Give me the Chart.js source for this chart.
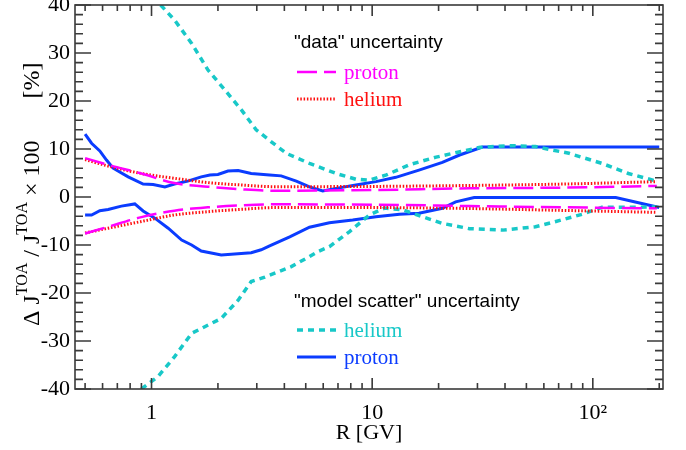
<!DOCTYPE html>
<html lang="en">
<head>
  <meta charset="UTF-8">
  <title>Flux uncertainty vs rigidity</title>
  <style>
    body { margin: 0; padding: 0; background: #ffffff; }
    canvas#fluxChart { display: block; }
  </style>
</head>
<body>
  <canvas id="fluxChart" width="686" height="450"></canvas>

  <script src="https://cdn.jsdelivr.net/npm/chart.js"></script>

  <script>
    // "model scatter" proton band (upper / lower edge)
    const modelProtonUpX = [0.5, 0.535, 0.583, 0.625, 0.67, 0.784, 0.916, 1.017, 1.15, 1.27, 1.46, 1.68, 1.84, 2.0, 2.22, 2.47, 2.83, 3.43, 3.87, 4.53, 5.2, 5.97, 6.86, 8.44, 10.4, 12.8, 16.3, 20.8, 24.9, 31.6, 200];
    const modelProtonUpY = [13.1, 11.2, 9.6, 7.7, 6.0, 4.2, 2.7, 2.6, 2.1, 2.7, 3.3, 4.2, 4.6, 4.7, 5.4, 5.5, 4.9, 4.6, 4.4, 3.3, 2.1, 1.25, 1.8, 2.5, 3.2, 4.1, 5.6, 7.2, 8.75, 10.4, 10.4];
    const modelProtonLoX = [0.5, 0.535, 0.583, 0.636, 0.73, 0.84, 0.916, 1.035, 1.19, 1.37, 1.52, 1.68, 2.07, 2.38, 2.83, 3.14, 3.43, 4.23, 5.2, 6.4, 8.16, 10.4, 13.3, 16.3, 20.8, 23.9, 29, 127, 200];
    const modelProtonLoY = [-3.75, -3.75, -2.85, -2.6, -1.9, -1.45, -2.9, -4.4, -6.5, -8.96, -10.0, -11.25, -12.1, -11.9, -11.6, -11.0, -10.2, -8.3, -6.3, -5.35, -4.8, -4.1, -3.6, -3.4, -2.35, -1.0, -0.1, -0.1, -2.2];

    // "model scatter" helium band
    const modelHeliumUpX = [1.10, 1.27, 1.52, 1.80, 2.15, 2.56, 2.98, 3.49, 4.08, 5.2, 6.86, 8.44, 9.7, 11.6, 14.7, 19.5, 23.2, 30.9, 41.9, 55, 78, 110, 145, 195];
    const modelHeliumUpY = [40, 36.9, 32, 26.5, 22.3, 18.1, 14.0, 11.5, 9.1, 7.0, 4.9, 3.7, 3.5, 4.6, 6.7, 8.3, 9.1, 10.35, 10.7, 10.5, 9.1, 7.0, 4.9, 3.3];
    const modelHeliumLoX = [0.90, 1.07, 1.27, 1.52, 1.68, 2.07, 2.47, 2.83, 3.26, 4.30, 5.2, 5.66, 6.4, 7.9, 9.7, 11.4, 13.8, 16.9, 20.8, 27.6, 39, 55, 68, 89.5, 110, 195];
    const modelHeliumLoY = [-40, -37.4, -33.3, -28.4, -27.4, -25.3, -21.5, -17.6, -16.7, -14.5, -12.4, -11.4, -10.35, -7.2, -3.75, -2.3, -2.7, -4.1, -5.5, -6.6, -6.9, -6.2, -5.1, -3.6, -2.15, -2.1];

    // "data" uncertainty bands (same rigidity grid for both species)
    const dataX = [0.5, 0.636, 0.90, 1.27, 1.80, 2.56, 3.61, 10, 27.6, 74, 195];
    const dataProtonUpY = [8.1, 6.7, 4.9, 2.9, 2.15, 1.6, 1.3, 1.45, 1.8, 1.95, 2.3];
    const dataProtonLoY = [-7.6, -6.2, -4.2, -2.85, -2.15, -1.74, -1.53, -1.6, -1.88, -2.15, -2.36];
    const dataHeliumUpY = [7.8, 6.45, 4.9, 3.9, 3.0, 2.5, 2.15, 2.2, 2.4, 2.7, 3.2];
    const dataHeliumLoY = [-7.5, -6.5, -5.1, -3.75, -3.06, -2.57, -2.2, -2.2, -2.4, -2.8, -3.2];

    // axis ticks
    const xLabelVals = [1, 10, 100];
    const xLabelText = ['1', '10', '10\u00B2'];
    const xMinorVals = [0.5, 0.6, 0.7, 0.8, 0.9, 2, 3, 4, 5, 6, 7, 8, 9, 20, 30, 40, 50, 60, 70, 80, 90, 200];
    const yLabelVals = [-40, -30, -20, -10, 0, 10, 20, 30, 40];

    const MAGENTA = '#ff00ff';
    const RED = '#ff1010';
    const CYAN = '#18c8c8';
    const BLUE = '#0b3cff';

    const STYLE = {
      dataProton: { color: MAGENTA, width: 2.5, dash: [20, 7] },
      dataHelium: { color: RED, width: 3, dash: [1.5, 1.8] },
      modelHelium: { color: CYAN, width: 3.5, dash: [6, 5] },
      modelProton: { color: BLUE, width: 3, dash: [] }
    };

    function pts(xs, ys) {
      return xs.map((x, i) => ({ x: x, y: ys[i] }));
    }

    function makeSet(xs, ys, st, smooth) {
      return {
        data: pts(xs, ys),
        borderColor: st.color,
        borderWidth: st.width,
        borderDash: st.dash,
        pointRadius: 0,
        fill: false,
        cubicInterpolationMode: smooth ? 'monotone' : 'default',
        tension: 0
      };
    }

    const datasets = [
      makeSet(dataX, dataProtonUpY, STYLE.dataProton, true),
      makeSet(dataX, dataProtonLoY, STYLE.dataProton, true),
      makeSet(dataX, dataHeliumUpY, STYLE.dataHelium, true),
      makeSet(dataX, dataHeliumLoY, STYLE.dataHelium, true),
      makeSet(modelHeliumUpX, modelHeliumUpY, STYLE.modelHelium, false),
      makeSet(modelHeliumLoX, modelHeliumLoY, STYLE.modelHelium, false),
      makeSet(modelProtonUpX, modelProtonUpY, STYLE.modelProton, false),
      makeSet(modelProtonLoX, modelProtonLoY, STYLE.modelProton, false)
    ];

    const SERIF = '"Liberation Serif", "Times New Roman", serif';
    const SANS = '"Liberation Sans", Arial, sans-serif';

    // frame with inward ticks on all four sides
    const framePlugin = {
      id: 'frame',
      afterDraw(chart) {
        const c = chart.ctx;
        const a = chart.chartArea;
        const xs = chart.scales.x, ys = chart.scales.y;
        c.save();
        c.strokeStyle = '#3a3a3a';
        c.lineWidth = 1.6;
        c.strokeRect(a.left, a.top, a.right - a.left, a.bottom - a.top);
        c.beginPath();
        const xTick = (v, len) => {
          const p = xs.getPixelForValue(v);
          c.moveTo(p, a.bottom); c.lineTo(p, a.bottom - len);
          c.moveTo(p, a.top); c.lineTo(p, a.top + len);
        };
        xLabelVals.forEach(v => xTick(v, 11));
        xMinorVals.forEach(v => xTick(v, 6));
        for (let v = -40; v <= 40; v += 2) {
          const p = ys.getPixelForValue(v);
          const len = v % 10 === 0 ? 16 : 8;
          c.moveTo(a.left, p); c.lineTo(a.left + len, p);
          c.moveTo(a.right, p); c.lineTo(a.right - len, p);
        }
        c.stroke();
        c.restore();
      }
    };

    // rotated y title with superscripts
    const yTitlePlugin = {
      id: 'yTitle',
      afterDraw(chart) {
        const c = chart.ctx;
        const main = '24px ' + SERIF;
        const sup = '16px ' + SERIF;
        const parts = [
          ['\u0394 J', main, 0],
          ['TOA', sup, -12],
          [' / J', main, 0],
          ['TOA', sup, -12],
          [' \u00D7 100       [%]', main, 0]
        ];
        c.save();
        c.translate(39, 326);
        c.rotate(-Math.PI / 2);
        c.fillStyle = '#000';
        c.textBaseline = 'alphabetic';
        c.textAlign = 'left';
        let x = 0;
        parts.forEach(([t, f, dy]) => {
          c.font = f;
          c.fillText(t, x, dy);
          x += c.measureText(t).width;
        });
        c.restore();
      }
    };

    // two-group legend
    const legendPlugin = {
      id: 'bandLegend',
      afterDraw(chart) {
        const c = chart.ctx;
        c.save();
        c.textBaseline = 'middle';
        c.textAlign = 'left';
        const header = (t, y) => {
          c.font = '19px ' + SANS;
          c.fillStyle = '#000';
          c.fillText(t, 294, y);
        };
        const entry = (t, st, y) => {
          c.beginPath();
          c.strokeStyle = st.color;
          c.lineWidth = st.width;
          c.setLineDash(st.dash);
          c.moveTo(297, y); c.lineTo(336, y);
          c.stroke();
          c.setLineDash([]);
          c.font = '21px ' + SERIF;
          c.fillStyle = st.color;
          c.fillText(t, 344, y + 1);
        };
        header('"data" uncertainty', 43);
        entry('proton', STYLE.dataProton, 72);
        entry('helium', STYLE.dataHelium, 99);
        header('"model scatter" uncertainty', 302);
        entry('helium', STYLE.modelHelium, 330);
        entry('proton', STYLE.modelProton, 357);
        c.restore();
      }
    };

    const chart = new Chart(document.getElementById('fluxChart'), {
      type: 'line',
      data: { datasets: datasets },
      options: {
        responsive: false,
        animation: false,
        layout: { padding: { top: 5, right: 23, left: 0, bottom: 0 } },
        plugins: {
          legend: { display: false },
          tooltip: { enabled: false }
        },
        scales: {
          x: {
            type: 'logarithmic',
            min: 0.45,
            max: 208,
            grid: { display: false, drawTicks: false },
            border: { display: false },
            afterBuildTicks: s => { s.ticks = xLabelVals.map(v => ({ value: v })); },
            afterFit: s => { s.height = 61; s.paddingLeft = 0; s.paddingRight = 0; },
            ticks: {
              autoSkip: false,
              maxRotation: 0,
              padding: 11,
              color: '#000',
              font: { family: SERIF, size: 22 },
              callback: v => xLabelText[xLabelVals.indexOf(v)]
            },
            title: {
              display: true,
              text: 'R [GV]',
              color: '#000',
              font: { family: SERIF, size: 22 },
              padding: { top: 0, bottom: 4 }
            }
          },
          y: {
            min: -40,
            max: 40,
            grid: { display: false, drawTicks: false },
            border: { display: false },
            afterBuildTicks: s => { s.ticks = yLabelVals.map(v => ({ value: v })); },
            afterFit: s => { s.width = 75; s.paddingTop = 0; s.paddingBottom = 0; },
            ticks: {
              padding: 5,
              color: '#000',
              font: { family: SERIF, size: 22 },
              callback: v => String(v)
            }
          }
        }
      },
      plugins: [framePlugin, yTitlePlugin, legendPlugin]
    });
  </script>
</body>
</html>
